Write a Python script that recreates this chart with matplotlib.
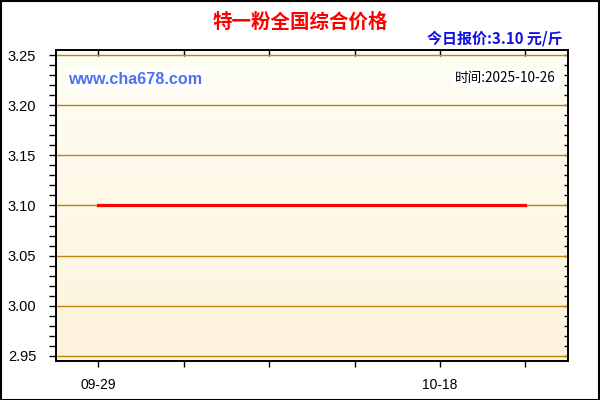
import numpy as np
import matplotlib
matplotlib.use('Agg')
import matplotlib.pyplot as plt
from matplotlib.patches import Rectangle
from matplotlib.ticker import MultipleLocator, FixedLocator

plt.rcParams['font.family'] = ['Liberation Sans', 'Noto Sans CJK SC', 'DejaVu Sans']

# data
dates = ['09-29', '09-30', '10-04', '10-05', '10-06', '10-07', '10-08', '10-09',
         '10-10', '10-11', '10-12', '10-13', '10-14', '10-15', '10-16', '10-17',
         '10-18', '10-19', '10-20', '10-21', '10-22']
prices = [3.10] * len(dates)
title = '特一粉全国综合价格'
today_price = '今日报价:3.10 元/斤'
date_text = '时间:2025-10-26'
site = 'www.cha678.com'

x = np.arange(len(dates))

fig = plt.figure(figsize=(6, 4), dpi=100)
fig.patch.set_facecolor('white')
ax = fig.add_axes([55.7/600, 1-361.3/400, (568-55.7)/600, (361.3-50.3)/400])

ylo, yhi = 2.9447, 3.2547
xlo, xhi = -2, 22
ax.set_xlim(xlo, xhi)
ax.set_ylim(ylo, yhi)

# gradient background (pale at top, warmer at bottom)
top = np.array([255, 254, 244]) / 255.0
bot = np.array([253, 243, 220]) / 255.0
t = np.linspace(0, 1, 256)[:, None]
grad = (top * (1 - t) + bot * t)[:, None, :]
ax.imshow(grad, extent=[xlo, xhi, ylo, yhi], aspect='auto', zorder=0, origin='upper')
ax.set_xlim(xlo, xhi)
ax.set_ylim(ylo, yhi)

# grid lines
for v in np.arange(2.95, 3.2501, 0.05):
    ax.axhline(v, color='#B8860B', lw=1.0, zorder=1)

ax.plot(x, prices, color='#FF0000', lw=2.3, zorder=3)

# ticks
ax.yaxis.set_major_locator(MultipleLocator(0.05))
ax.yaxis.set_minor_locator(MultipleLocator(0.01))
ax.yaxis.set_major_formatter(matplotlib.ticker.FormatStrFormatter('%.2f'))
ax.xaxis.set_major_locator(FixedLocator([0, 16]))
ax.xaxis.set_minor_locator(FixedLocator([4, 8, 12, 20]))
ax.set_xticklabels([dates[0], dates[16]])
ax.tick_params(axis='y', which='both', direction='out', length=5, width=1,
               labelsize=10.5, pad=9, right=False)
ax.tick_params(axis='x', which='both', direction='out', length=4, width=1,
               labelsize=10, pad=8, top=False)

sy = ax.secondary_yaxis('right')
sy.yaxis.set_major_locator(MultipleLocator(0.01))
sy.tick_params(direction='in', length=3, width=1, labelright=False)
sy.spines['right'].set_visible(False)
sx = ax.secondary_xaxis('top')
sx.xaxis.set_major_locator(FixedLocator([0, 4, 8, 12, 16, 20]))
sx.tick_params(direction='in', length=4, width=1, labeltop=False)
sx.spines['top'].set_visible(False)

for s in ax.spines.values():
    s.set_linewidth(1.4)
    s.set_color('black')

# texts
fig.text(0.5, 1-22/400, title, ha='center', va='center', color='#FF0000',
         fontsize=14, fontweight='bold', family=['Noto Sans CJK SC', 'DejaVu Sans'])
fig.text(563/600, 1-39/400, today_price, ha='right', va='center', color='#1010E0',
         fontsize=10.8, fontweight='bold', family=['Noto Sans CJK SC', 'DejaVu Sans'])
ax.text(68/600, 1-79/400, site, transform=fig.transFigure, ha='left', va='center',
        color='#5070F0', fontsize=11.6, fontweight='bold', family='Liberation Sans',
        bbox=dict(facecolor='white', edgecolor='none', pad=1.5), zorder=4)
ax.text(556/600, 1-78/400, date_text, transform=fig.transFigure, ha='right', va='center',
        color='black', fontsize=9.8, family=['Noto Sans CJK SC', 'DejaVu Sans'],
        bbox=dict(facecolor='white', edgecolor='none', pad=1.5), zorder=4)

# outer frame
fig.patches.append(Rectangle((0.001, 0.001), 0.997, 0.997, transform=fig.transFigure,
                             fill=False, edgecolor='black', lw=1.5))

fig.savefig('out.png', dpi=100)
